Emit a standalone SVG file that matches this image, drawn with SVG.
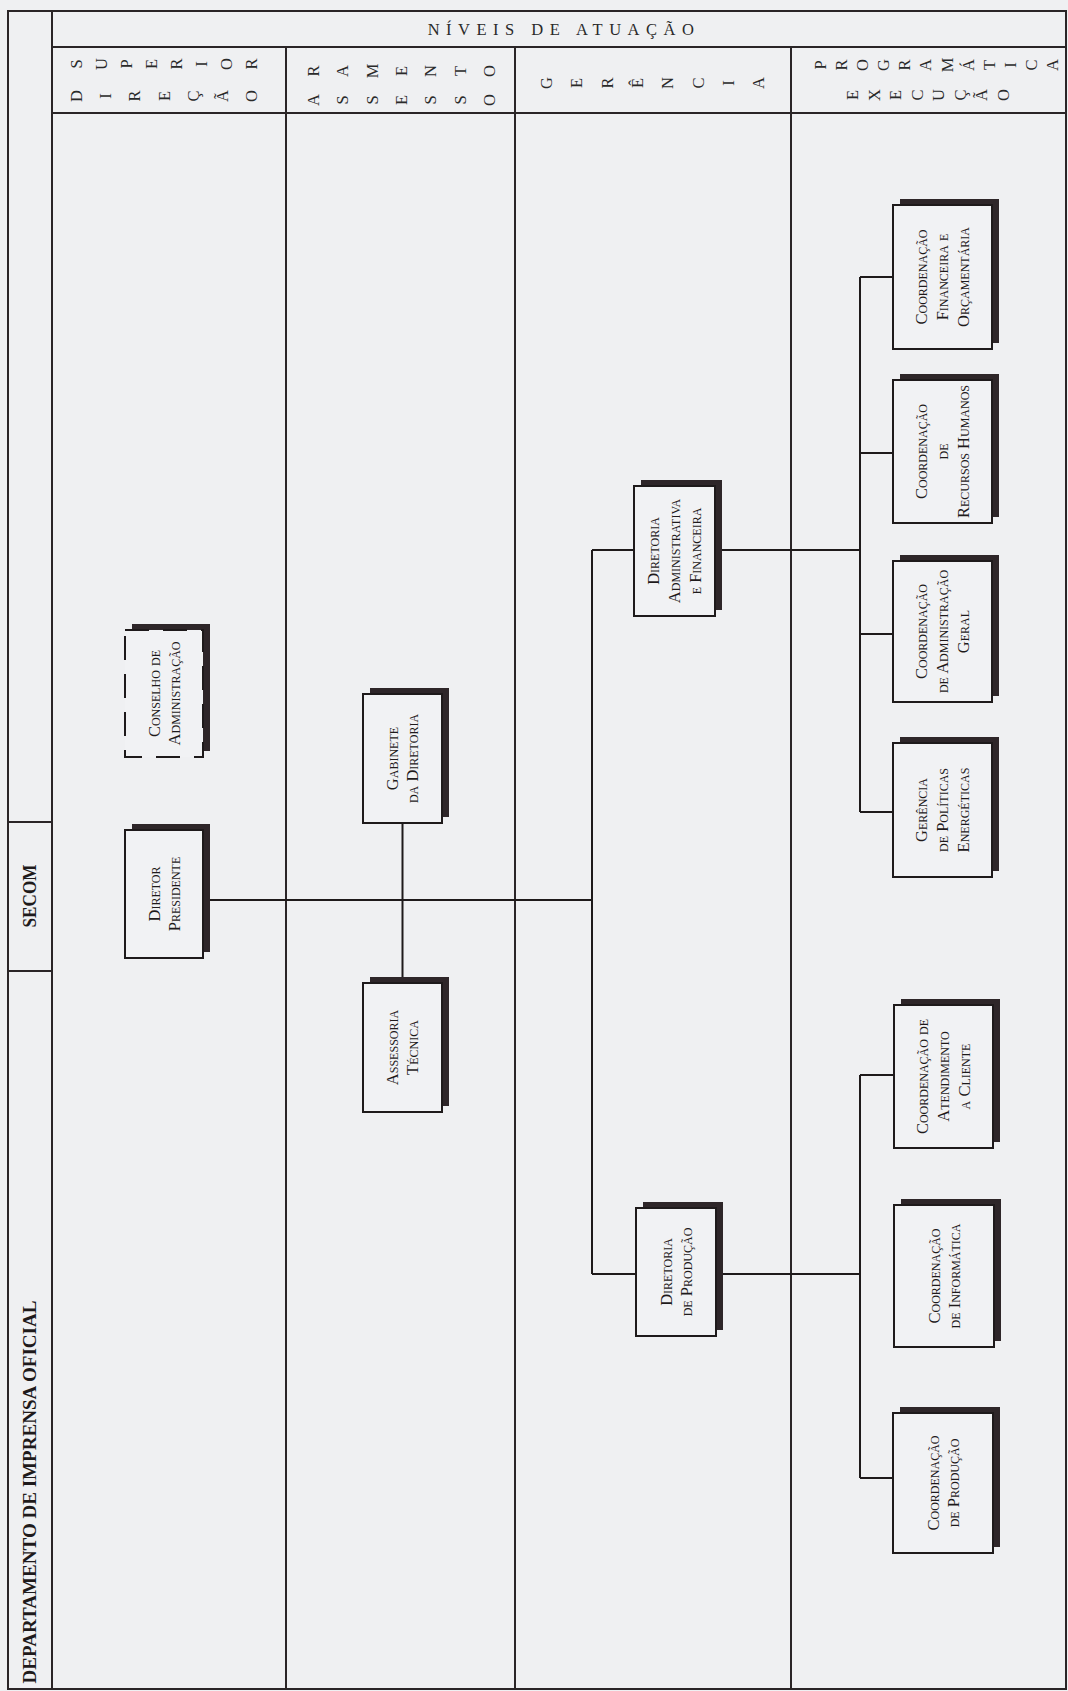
<svg xmlns="http://www.w3.org/2000/svg" width="1068" height="1691" viewBox="0 0 1068 1691">
<style>
.bg{fill:#eff0f2}
.bx{fill:#f1f2f4;stroke:#1e1a1b;stroke-width:2}
.dash{stroke-dasharray:24 14}
.sh{fill:#2e2629}
.ln{stroke:#1e1a1b;stroke-width:2;fill:none}
.fr{stroke:#2a2527;stroke-width:2;fill:none}
.t{font-family:"Liberation Serif",serif;font-size:16.5px;font-variant:small-caps;fill:#1e1a1b;text-anchor:middle}
.h{font-family:"Liberation Serif",serif;font-size:16.5px;fill:#2a2a2a;text-anchor:middle;dominant-baseline:central}
.b{font-family:"Liberation Serif",serif;font-weight:bold;font-size:19px;fill:#1e1a1b;text-anchor:middle}
.top{font-family:"Liberation Serif",serif;font-size:16.5px;letter-spacing:6.5px;fill:#2a2a2a;text-anchor:middle}
</style>
<rect class="bg" x="0" y="0" width="1068" height="1691"/>
<g id="frame">
<rect class="fr" x="8" y="11" width="1058" height="1678"/>
<path class="fr" d="M52 11V1689M52 47H1066M52 113H1066M286 47V1689M515 47V1689M791 47V1689M8 822H52M8 971H52"/>
</g>
<g id="titles">
<text class="top" x="564" y="35">NÍVEIS DE ATUAÇÃO</text>
<text class="b" transform="translate(36,896) rotate(-90)" textLength="63" lengthAdjust="spacingAndGlyphs" x="0" y="0">SECOM</text>
<text class="b" transform="translate(36,1492) rotate(-90)" textLength="383" lengthAdjust="spacingAndGlyphs" x="0" y="0">DEPARTAMENTO DE IMPRENSA OFICIAL</text>
</g>
<g id="col-headers" transform="rotate(-90)">
<text class="h" x="-64 -64 -64 -64 -64 -64 -64 -64" y="76 101 126 151 176 201 226 251">SUPERIOR</text>
<text class="h" x="-96 -96 -96 -96 -96 -96 -96" y="76 105 134 164 193 222 251">DIREÇÃO</text>
<text class="h" x="-71 -71 -71 -71 -71 -71 -71" y="313 342 372 401 430 460 489">RAMENTO</text>
<text class="h" x="-100 -100 -100 -100 -100 -100 -100" y="313 342 372 401 430 460 489">ASSESSO</text>
<text class="h" x="-83 -83 -83 -83 -83 -83 -83 -83" y="546 576 607 637 667 698 728 758">GERÊNCIA</text>
<text class="h" x="-65 -65 -65 -65 -65 -65 -65 -65 -65 -65 -65 -65" y="820 841 862 883 904 925 947 968 989 1010 1031 1052">PROGRAMÁTICA</text>
<text class="h" x="-95 -95 -95 -95 -95 -95 -95 -95" y="852 874 895 917 938 960 981 1003">EXECUÇÃO</text>
</g>
<g id="connectors">
<path class="ln" d="M203 900H592M402.5 823V983M592 550V1274M592 550H634M592 1274H636M715 550H860M716 1274H860M860 277V812M860 277H893M860 453H893M860 634H893M860 812H893M860 1075V1478M860 1075H894M860 1478H893"/>
</g>
<g id="n-conselho">
<rect class="sh" x="132" y="624" width="78" height="127"/>
<rect class="bx dash" x="125" y="630" width="78" height="127"/>
<text class="t" transform="translate(164,693.5) rotate(-90)"><tspan x="0" y="-4.5">Conselho de</tspan><tspan x="0" y="15.5">Administração</tspan></text>
</g>
<g id="n-diretor">
<rect class="sh" x="132" y="824" width="78" height="128"/>
<rect class="bx" x="125" y="830" width="78" height="128"/>
<text class="t" transform="translate(164,894) rotate(-90)"><tspan x="0" y="-4.5">Diretor</tspan><tspan x="0" y="15.5">Presidente</tspan></text>
</g>
<g id="n-gabinete">
<rect class="sh" x="370" y="688" width="79" height="129"/>
<rect class="bx" x="363" y="694" width="79" height="129"/>
<text class="t" transform="translate(402.5,758.5) rotate(-90)"><tspan x="0" y="-4.5">Gabinete</tspan><tspan x="0" y="15.5">da Diretoria</tspan></text>
</g>
<g id="n-assessoria">
<rect class="sh" x="370" y="977" width="79" height="129"/>
<rect class="bx" x="363" y="983" width="79" height="129"/>
<text class="t" transform="translate(402.5,1047.5) rotate(-90)"><tspan x="0" y="-4.5">Assessoria</tspan><tspan x="0" y="15.5">Técnica</tspan></text>
</g>
<g id="n-dir-adm">
<rect class="sh" x="641" y="480" width="81" height="130"/>
<rect class="bx" x="634" y="486" width="81" height="130"/>
<text class="t" transform="translate(674.5,551) rotate(-90)"><tspan x="0" y="-15.5">Diretoria</tspan><tspan x="0" y="5.5">Administrativa</tspan><tspan x="0" y="26.5">e Financeira</tspan></text>
</g>
<g id="n-dir-prod">
<rect class="sh" x="643" y="1202" width="80" height="128"/>
<rect class="bx" x="636" y="1208" width="80" height="128"/>
<text class="t" transform="translate(676,1272) rotate(-90)"><tspan x="0" y="-4.5">Diretoria</tspan><tspan x="0" y="15.5">de Produção</tspan></text>
</g>
<g id="n-fin">
<rect class="sh" x="900" y="199" width="99" height="144"/>
<rect class="bx" x="893" y="205" width="99" height="144"/>
<text class="t" transform="translate(942.5,277) rotate(-90)"><tspan x="0" y="-15.5">Coordenação</tspan><tspan x="0" y="5.5">Financeira e</tspan><tspan x="0" y="26.5">Orçamentária</tspan></text>
</g>
<g id="n-rh">
<rect class="sh" x="900" y="374" width="99" height="143"/>
<rect class="bx" x="893" y="380" width="99" height="143"/>
<text class="t" transform="translate(942.5,451.5) rotate(-90)"><tspan x="0" y="-15.5">Coordenação</tspan><tspan x="0" y="5.5">de</tspan><tspan x="0" y="26.5">Recursos Humanos</tspan></text>
</g>
<g id="n-adm-geral">
<rect class="sh" x="900" y="555" width="99" height="141"/>
<rect class="bx" x="893" y="561" width="99" height="141"/>
<text class="t" transform="translate(942.5,631.5) rotate(-90)"><tspan x="0" y="-15.5">Coordenação</tspan><tspan x="0" y="5.5">de Administração</tspan><tspan x="0" y="26.5">Geral</tspan></text>
</g>
<g id="n-gerencia">
<rect class="sh" x="900" y="737" width="99" height="134"/>
<rect class="bx" x="893" y="743" width="99" height="134"/>
<text class="t" transform="translate(942.5,810) rotate(-90)"><tspan x="0" y="-15.5">Gerência</tspan><tspan x="0" y="5.5">de Políticas</tspan><tspan x="0" y="26.5">Energéticas</tspan></text>
</g>
<g id="n-atendimento">
<rect class="sh" x="901" y="999" width="99" height="143"/>
<rect class="bx" x="894" y="1005" width="99" height="143"/>
<text class="t" transform="translate(943.5,1076.5) rotate(-90)"><tspan x="0" y="-15.5">Coordenação de</tspan><tspan x="0" y="5.5">Atendimento</tspan><tspan x="0" y="26.5">a Cliente</tspan></text>
</g>
<g id="n-informatica">
<rect class="sh" x="901" y="1199" width="100" height="142"/>
<rect class="bx" x="894" y="1205" width="100" height="142"/>
<text class="t" transform="translate(944,1276) rotate(-90)"><tspan x="0" y="-4.5">Coordenação</tspan><tspan x="0" y="15.5">de Informática</tspan></text>
</g>
<g id="n-producao">
<rect class="sh" x="900" y="1407" width="100" height="140"/>
<rect class="bx" x="893" y="1413" width="100" height="140"/>
<text class="t" transform="translate(943,1483) rotate(-90)"><tspan x="0" y="-4.5">Coordenação</tspan><tspan x="0" y="15.5">de Produção</tspan></text>
</g>
</svg>
